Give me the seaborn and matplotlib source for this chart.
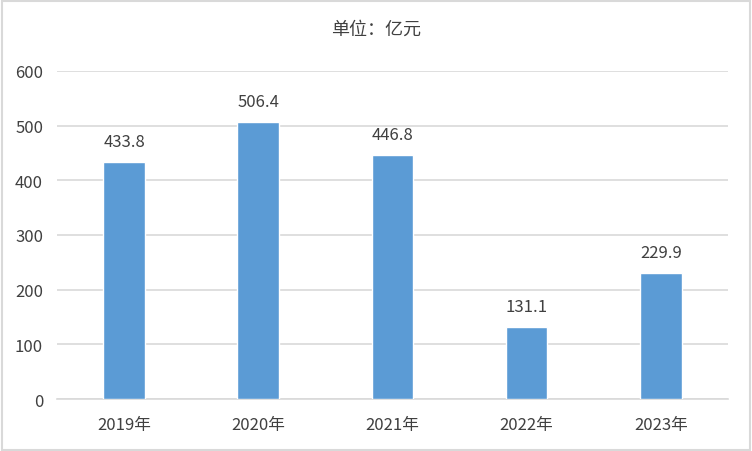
import matplotlib
matplotlib.use("Agg")
import matplotlib.pyplot as plt
import seaborn as sns
import pandas as pd

# Data
years = ["2019年", "2020年", "2021年", "2022年", "2023年"]
values = [433.8, 506.4, 446.8, 131.1, 229.9]
y_ticks = [0, 100, 200, 300, 400, 500, 600]

sns.set_theme(style="white")
plt.rcParams['font.family'] = ['Noto Sans CJK SC', 'DejaVu Sans']

df = pd.DataFrame({"year": years, "value": values})

fig = plt.figure(figsize=(7.52, 4.52), dpi=100)
ax = fig.add_axes([0.0758, 0.115, 0.892, 0.726])

sns.barplot(data=df, x="year", y="value", color="#5B9BD5", width=0.31,
            saturation=1, ax=ax, zorder=3)

# value labels above bars
for i, v in enumerate(values):
    ax.text(i, v + 22, f"{v:.1f}", ha="center", va="bottom",
            fontsize=12, color="#404040")

ax.set_ylim(0, 600)
ax.set_yticks(y_ticks)
ax.set_xlim(-0.5, len(years) - 0.5)
ax.yaxis.grid(True, color="#D9D9D9", linewidth=1.2, zorder=0)
ax.set_axisbelow(True)
for s in ["top", "right", "left"]:
    ax.spines[s].set_visible(False)
ax.spines["bottom"].set_color("#D9D9D9")
ax.spines["bottom"].set_linewidth(1.2)
ax.tick_params(axis="both", length=0, labelsize=12, colors="#404040")
ax.tick_params(axis="x", pad=12)
ax.tick_params(axis="y", pad=10)
ax.set_xlabel("")
ax.set_ylabel("")

fig.text(0.5, 0.935, "单位：亿元", ha="center", va="center",
         fontsize=13, color="#404040")

# light gray frame around the figure
fig.patches.append(plt.Rectangle((0.002, 0.003), 0.995, 0.993,
                                 transform=fig.transFigure, fill=False,
                                 edgecolor="#D9D9D9", linewidth=1.5))

fig.savefig("out.png", dpi=100)
